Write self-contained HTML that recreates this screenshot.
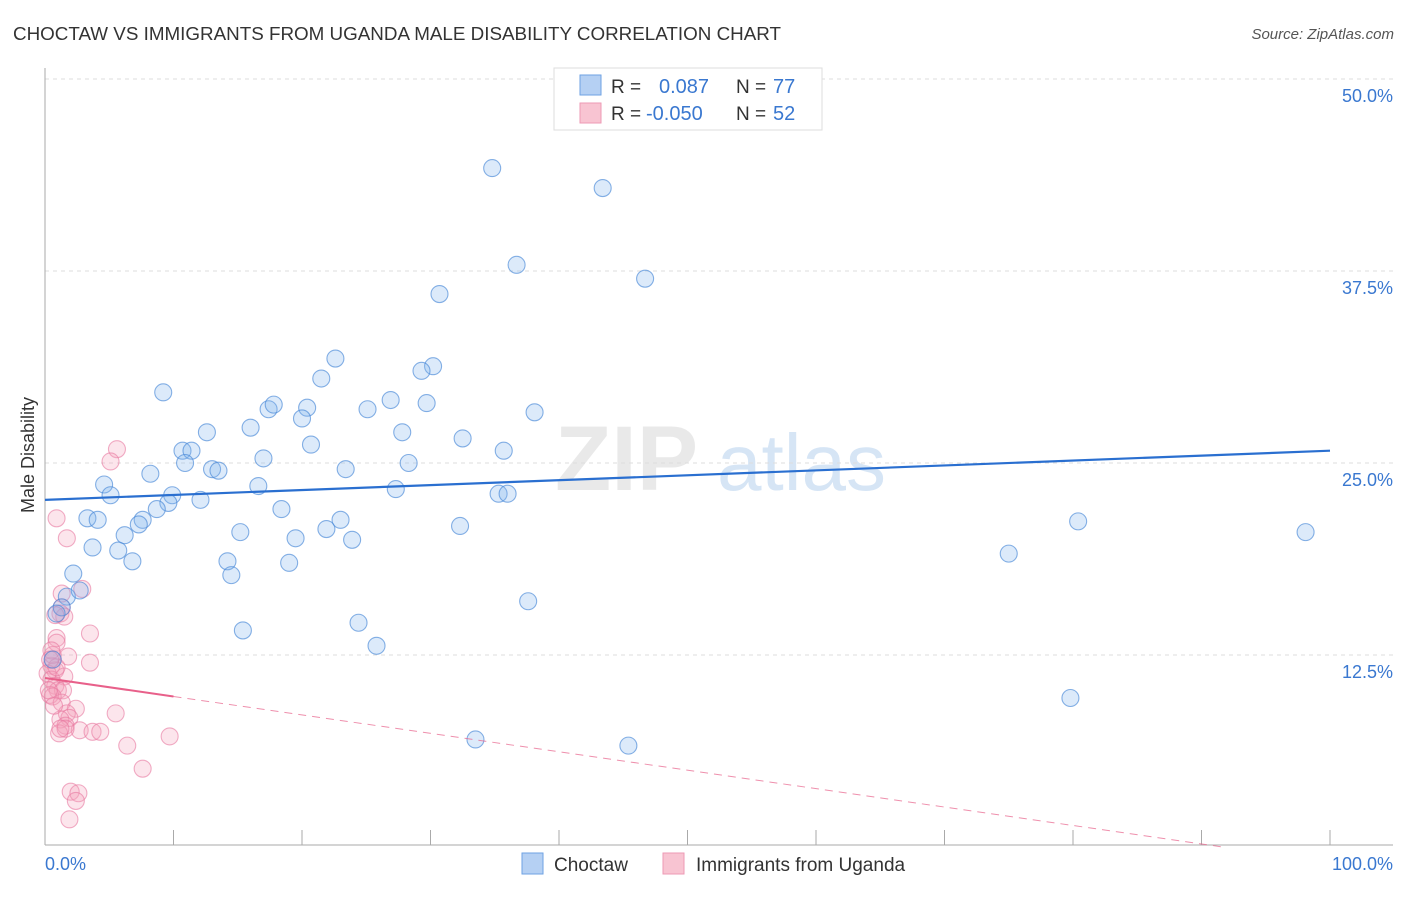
<!DOCTYPE html>
<html><head><meta charset="utf-8"><style>
body{margin:0;background:#fff;font-family:"Liberation Sans",sans-serif;}
svg text{font-family:"Liberation Sans",sans-serif;}
</style></head><body>
<svg id="chart" width="1406" height="892" xmlns="http://www.w3.org/2000/svg">
<text x="13" y="40" font-size="18.7" fill="#333" textLength="768" lengthAdjust="spacingAndGlyphs">CHOCTAW VS IMMIGRANTS FROM UGANDA MALE DISABILITY CORRELATION CHART</text>
<text x="1394" y="39" font-size="15" fill="#555" font-style="italic" text-anchor="end">Source: ZipAtlas.com</text>
<g>
<text x="555" y="490" font-size="92" font-family="Liberation Serif" font-weight="bold" fill="#d8d8d8" opacity="0.55">ZIP</text>
<text x="717" y="490" font-size="80" fill="#b5d0ee" opacity="0.55">atlas</text>
</g>
<g id="grid"></g>
<g id="axes"></g>
<text transform="translate(34,455) rotate(-90)" font-size="18" fill="#333" text-anchor="middle">Male Disability</text>
<g id="marks"></g>
<g>
<rect x="554" y="68" width="268" height="62" fill="#fff" stroke="#ddd"/>
<rect x="580" y="75" width="21" height="20" fill="#b5d0f3" stroke="#6ea2e3"/>
<rect x="580" y="103" width="21" height="20" fill="#f8c4d2" stroke="#ee9ab4"/>
<text x="611" y="93" font-size="19" fill="#333">R =</text>
<text x="659" y="93" font-size="20" fill="#3a78d0">0.087</text>
<text x="736" y="93" font-size="19" fill="#333">N =</text>
<text x="773" y="93" font-size="20" fill="#3a78d0">77</text>
<text x="611" y="120" font-size="19" fill="#333">R =</text>
<text x="646" y="120" font-size="20" fill="#3a78d0">-0.050</text>
<text x="736" y="120" font-size="19" fill="#333">N =</text>
<text x="773" y="120" font-size="20" fill="#3a78d0">52</text>
</g>
<g>
<rect x="522" y="853" width="21" height="21" fill="#b5d0f3" stroke="#6ea2e3"/>
<text x="554" y="871" font-size="19" fill="#333">Choctaw</text>
<rect x="663" y="853" width="21" height="21" fill="#f8c4d2" stroke="#ee9ab4"/>
<text x="696" y="871" font-size="19" fill="#333">Immigrants from Uganda</text>
</g>
</svg>
<script>
const yTicks=[50,37.5,25,12.5];
const yTickLabels=["50.0%","37.5%","25.0%","12.5%"];
const xTickLabels=["0.0%","100.0%"];
const blueX=[34.8,43.4,36.7,46.7,30.7,22.6,30.2,29.3,21.5,9.2,26.9,29.7,20.4,17.4,17.8,25.1,20.0,38.1,12.6,16.0,27.8,32.5,10.7,11.4,20.7,35.7,10.9,17.0,28.3,13.0,13.5,23.4,8.2,4.6,16.6,27.3,5.1,35.3,36.0,9.9,12.1,9.6,8.7,18.4,3.3,4.1,7.6,7.3,23.0,21.9,32.3,6.2,15.2,19.5,23.9,3.7,5.7,80.4,98.1,75.0,6.8,14.2,19.0,14.5,2.2,1.7,2.7,1.3,0.9,37.6,24.4,15.4,25.8,0.6,79.8,33.5,45.4];
const blueY=[44.2,42.9,37.9,37.0,36.0,31.8,31.3,31.0,30.5,29.6,29.1,28.9,28.6,28.5,28.8,28.5,27.9,28.3,27.0,27.3,27.0,26.6,25.8,25.8,26.2,25.8,25.0,25.3,25.0,24.6,24.5,24.6,24.3,23.6,23.5,23.3,22.9,23.0,23.0,22.9,22.6,22.4,22.0,22.0,21.4,21.3,21.3,21.0,21.3,20.7,20.9,20.3,20.5,20.1,20.0,19.5,19.3,21.2,20.5,19.1,18.6,18.6,18.5,17.7,17.8,16.3,16.7,15.6,15.2,16.0,14.6,14.1,13.1,12.2,9.7,7.0,6.6];
const pinkX=[5.6,5.1,0.9,1.7,2.9,1.3,1.3,1.2,1.5,0.8,3.5,0.9,0.9,1.8,3.5,0.6,0.5,0.8,0.2,0.5,1.5,0.8,1.0,1.4,0.4,0.6,1.3,2.4,1.7,1.9,1.2,5.5,1.6,2.7,3.7,1.1,9.7,6.4,7.6,2.0,2.6,2.4,1.9,0.6,0.5,0.7,0.9,0.3,0.4,1.6,1.2,4.3];
const pinkY=[25.9,25.1,21.4,20.1,16.8,16.5,15.6,15.2,15.0,15.1,13.9,13.6,13.3,12.4,12.0,12.2,11.8,11.5,11.3,10.9,11.1,10.5,10.2,10.2,9.9,9.8,9.4,9.0,8.7,8.4,8.3,8.7,7.9,7.6,7.5,7.4,7.2,6.6,5.1,3.6,3.5,3.0,1.8,12.5,12.8,9.2,11.7,10.2,12.2,7.7,7.7,7.5];
const blueTrend=[22.6,25.8];
const pinkTrend=[11.0,-0.12];
const NS="http://www.w3.org/2000/svg";
const X0=45,X1=1330,Y0=847,Y50=79;
function xs(v){return X0+(X1-X0)*v/100;}
function ys(v){return Y0-(Y0-Y50)*v/50;}
function mk(t,a,p){const e=document.createElementNS(NS,t);for(const k in a)e.setAttribute(k,a[k]);p.appendChild(e);return e;}
const grid=document.getElementById('grid'),axes=document.getElementById('axes'),marks=document.getElementById('marks');
yTicks.forEach((v,i)=>{
 const l=mk('line',{x1:X0,x2:1393,y1:ys(v),y2:ys(v),stroke:'#ddd','stroke-dasharray':'4,4'},grid);
 
 
 const t=mk('text',{x:1393,y:ys(v)+23,'font-size':18,fill:'#3a78d0','text-anchor':'end'},axes);
 t.textContent=yTickLabels[i];
 
 
});
let a=mk('line',{x1:X0,x2:X0,y1:68,y2:845,stroke:'#aaa'},axes);


a=mk('line',{x1:X0,x2:1393,y1:845,y2:845,stroke:'#aaa'},axes);


for(let i=1;i<=10;i++){
 const t=mk('line',{x1:xs(i*10),x2:xs(i*10),y1:830,y2:845,stroke:'#aaa'},axes);
 
 
}
let xt=mk('text',{x:45,y:870,'font-size':18,fill:'#3a78d0'},axes);xt.textContent=xTickLabels[0];


xt=mk('text',{x:1393,y:870,'font-size':18,fill:'#3a78d0','text-anchor':'end'},axes);xt.textContent=xTickLabels[1];


pinkX.forEach((v,i)=>{
 const c=mk('circle',{cx:xs(v),cy:ys(pinkY[i]),r:8.5,fill:'rgba(244,160,186,0.28)',stroke:'rgba(232,120,160,0.6)','stroke-width':1.1},marks);
 
 
});
blueX.forEach((v,i)=>{
 const c=mk('circle',{cx:xs(v),cy:ys(blueY[i]),r:8.5,fill:'rgba(130,178,236,0.28)',stroke:'rgba(70,135,215,0.65)','stroke-width':1.1},marks);
 
 
});
let tl=mk('line',{x1:xs(0),y1:ys(blueTrend[0]),x2:xs(100),y2:ys(blueTrend[1]),stroke:'#2a6fd0','stroke-width':2.2},marks);


const pEnd=-pinkTrend[0]/pinkTrend[1];
tl=mk('line',{x1:xs(0),y1:ys(pinkTrend[0]),x2:xs(10),y2:ys(pinkTrend[0]+pinkTrend[1]*10),stroke:'#e8608a','stroke-width':2},marks);


tl=mk('line',{x1:xs(10),y1:ys(pinkTrend[0]+pinkTrend[1]*10),x2:xs(pEnd),y2:ys(0),stroke:'#e8608a','stroke-width':1,'stroke-dasharray':'8,6',opacity:0.7},marks);


</script>
</body></html>
